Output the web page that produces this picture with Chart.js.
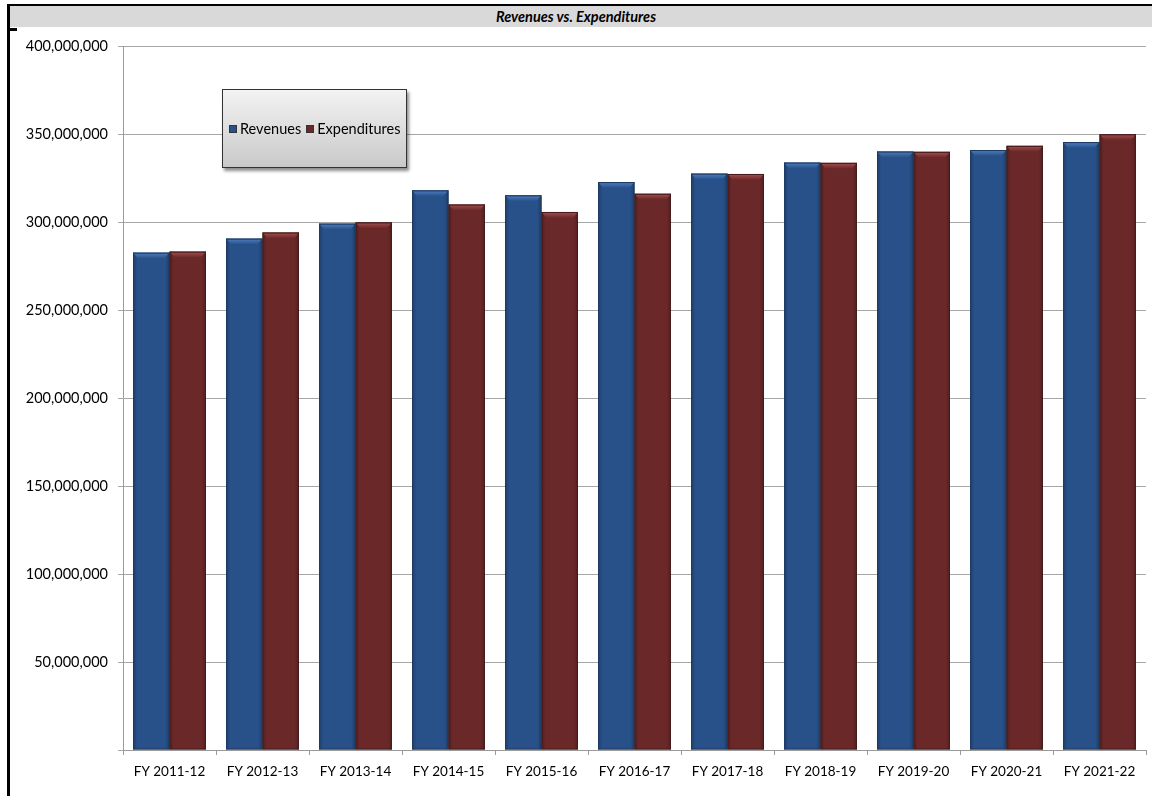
<!DOCTYPE html>
<html>
<head>
<meta charset="utf-8">
<script src="https://cdn.jsdelivr.net/npm/chart.js@4.4.0/dist/chart.umd.min.js"></script>
<style>
  html, body { margin: 0; padding: 0; background: #ffffff; }
  body { width: 1152px; height: 796px; position: relative; overflow: hidden; font-family: Lato, "Open Sans", sans-serif; }
  #frameTop { position: absolute; left: 7px; top: 4px; width: 1145px; height: 2px; background: #000; }
  #frameLeft { position: absolute; left: 7px; top: 4px; width: 3px; height: 792px; background: #000; }
  #titleBar { position: absolute; left: 10px; top: 6px; width: 1142px; height: 21px; background: #d9d9d9;
              text-align: center; font: italic bold 14.5px Lato, "Open Sans", sans-serif; line-height: 21px; color: #000; }
  #titleBar span { position: relative; left: -5px; }
  #mark { position: absolute; left: 7px; top: 28px; width: 10px; height: 3px; background: #000; }
  #wrap { position: absolute; left: 0; top: 0; width: 1152px; height: 796px; }
  #legend { position: absolute; left: 222px; top: 89px; width: 185px; height: 79px; border: 1px solid #333;
            background: linear-gradient(#f3f3f3, #c9c9c9); box-shadow: 2px 3px 3px rgba(0,0,0,0.45);
            display: flex; align-items: center; padding-left: 6px; box-sizing: border-box;
            font: 14.5px Lato, "Open Sans", sans-serif; color: #000; white-space: nowrap; }
  #legend .sw { display: inline-block; width: 8px; height: 8px; margin-right: 3px; border: 1px solid #333; box-sizing: border-box; }
  #legend .it { display: inline-flex; align-items: center; margin-right: 5px; }
</style>
</head>
<body>
<div id="wrap"><canvas id="c" width="1152" height="796"></canvas></div>
<div id="frameTop"></div>
<div id="frameLeft"></div>
<div id="titleBar"><span>Revenues vs. Expenditures</span></div>
<div id="mark"></div>
<div id="legend"></div>
<script>
const categories = ["FY 2011-12","FY 2012-13","FY 2013-14","FY 2014-15","FY 2015-16","FY 2016-17","FY 2017-18","FY 2018-19","FY 2019-20","FY 2020-21","FY 2021-22"];
const revenues = [282600000, 290600000, 299100000, 318000000, 315200000, 322700000, 327500000, 333800000, 340100000, 340900000, 345400000];
const expenditures = [283200000, 294100000, 299800000, 310000000, 305700000, 316100000, 327300000, 333600000, 339900000, 343300000, 349900000];
const seriesNames = ["Revenues", "Expenditures"];
const seriesColors = ["#28518a", "#6b2829"];
const seriesHighlights = ["#4f7fc0", "#a55050"];
const seriesEdges = ["#1c3a63", "#471a1b"];
const yTicks = [0, 50000000, 100000000, 150000000, 200000000, 250000000, 300000000, 350000000, 400000000];

// HTML legend built from series names/colours
const lg = document.getElementById('legend');
seriesNames.forEach((n, i) => {
  const s = document.createElement('span'); s.className = 'it';
  const sw = document.createElement('span'); sw.className = 'sw'; sw.style.background = seriesColors[i];
  s.appendChild(sw); s.appendChild(document.createTextNode(n));
  lg.appendChild(s);
});

// Bevel effect: shade edges and top cap of each bar the library has laid out
const bevel = {
  id: 'bevel',
  afterDatasetsDraw(chart) {
    const ctx = chart.ctx;
    chart.data.datasets.forEach((ds, di) => {
      chart.getDatasetMeta(di).data.forEach((bar) => {
        const p = bar.getProps(['x', 'y', 'base', 'width'], true);
        const l = p.x - p.width / 2, r = p.x + p.width / 2, t = p.y, b = p.base;
        ctx.save();
        // side shading
        let g = ctx.createLinearGradient(l, 0, r, 0);
        g.addColorStop(0, 'rgba(0,0,0,0.25)');
        g.addColorStop(0.12, 'rgba(0,0,0,0)');
        g.addColorStop(0.88, 'rgba(0,0,0,0)');
        g.addColorStop(1, 'rgba(0,0,0,0.25)');
        ctx.fillStyle = g;
        ctx.fillRect(l, t, r - l, b - t);
        // top cap
        g = ctx.createLinearGradient(0, t, 0, t + 6);
        g.addColorStop(0, seriesHighlights[di]);
        g.addColorStop(1, seriesColors[di]);
        ctx.fillStyle = g;
        ctx.beginPath();
        ctx.moveTo(l + 1, t + 1);
        ctx.lineTo(r - 1, t + 1);
        ctx.lineTo(r - 5, t + 6);
        ctx.lineTo(l + 5, t + 6);
        ctx.closePath();
        ctx.fill();
        ctx.strokeStyle = seriesEdges[di];
        ctx.lineWidth = 1;
        ctx.strokeRect(l + 0.5, t + 0.5, r - l - 1, b - t - 1);
        ctx.restore();
      });
    });
  }
};

const font = { family: "Lato, 'Open Sans', sans-serif", size: 13.5 };

new Chart(document.getElementById('c'), {
  type: 'bar',
  data: {
    labels: categories,
    datasets: [
      { label: seriesNames[0], data: revenues, backgroundColor: seriesColors[0], borderWidth: 0 },
      { label: seriesNames[1], data: expenditures, backgroundColor: seriesColors[1], borderWidth: 0 }
    ]
  },
  plugins: [bevel],
  options: {
    responsive: false,
    animation: false,
    devicePixelRatio: 1,
    categoryPercentage: 0.785,
    barPercentage: 1.0,
    layout: { padding: { left: 8, top: 46, right: 6, bottom: 0 } },
    plugins: { legend: { display: false }, title: { display: false }, tooltip: { enabled: false } },
    scales: {
      x: {
        offset: true,
        grid: { offset: true, drawOnChartArea: false, drawTicks: true, tickLength: 5, color: '#9a9a9a' },
        border: { display: true, color: '#9a9a9a' },
        ticks: { color: '#000', font: font, padding: 9, maxRotation: 0, autoSkip: false },
        afterFit: (s) => { s.height = 46; }
      },
      y: {
        min: yTicks[0], max: yTicks[yTicks.length - 1],
        afterBuildTicks: (s) => { s.ticks = yTicks.map(v => ({ value: v })); },
        grid: { color: '#a6a6a6', drawTicks: true, tickLength: 5 },
        border: { display: true, color: '#9a9a9a' },
        ticks: { color: '#000', font: { family: font.family, size: 14.5 }, padding: 10,
                 callback: (v) => v === 0 ? '' : Number(v).toLocaleString('en-US') },
        afterFit: (s) => { s.width = 115; }
      }
    }
  }
});
</script>
</body>
</html>
